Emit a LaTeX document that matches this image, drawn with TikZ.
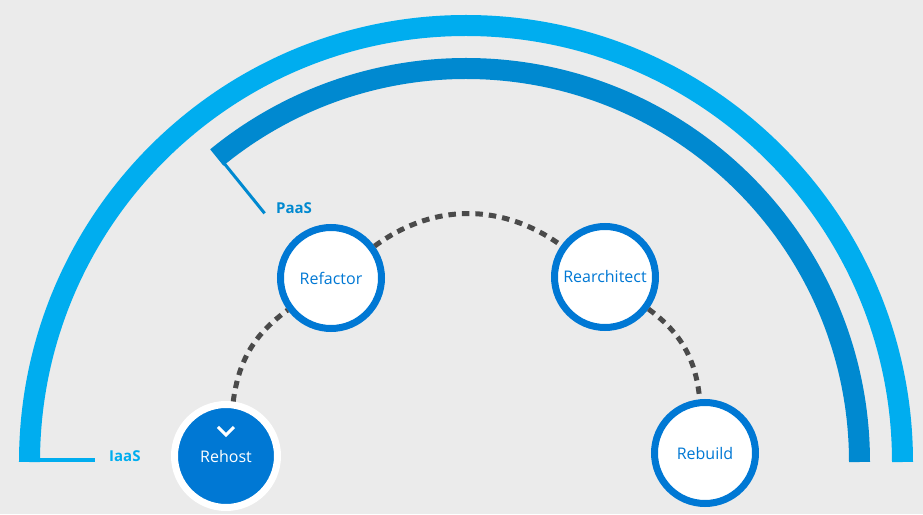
\documentclass[tikz,border=0pt]{standalone}
\usepackage{fontspec}
\setmainfont{Open Sans}
\definecolor{bgc}{HTML}{EBEBEB}
\definecolor{outerc}{HTML}{00ADEF}
\definecolor{innerc}{HTML}{0089D0}
\definecolor{nodec}{HTML}{0078D4}
\definecolor{dashc}{HTML}{4A4A4A}
\begin{document}
\begin{tikzpicture}[x=1pt,y=1pt,
  stage/.style={circle, draw=nodec, line width=7pt, fill=white, minimum size=101pt, inner sep=0pt, text=nodec, font=\fontsize{16}{18}\selectfont},
  curstage/.style={circle, draw=white, line width=7pt, fill=nodec, minimum size=103pt, inner sep=0pt, text=white, font=\fontsize{16}{18}\selectfont},
  dashline/.style={draw=dashc, line width=5pt, dash pattern=on 7.5pt off 6pt},
  tierlabel/.style={font=\fontsize{15}{17}\selectfont\bfseries, inner sep=0pt, anchor=west}
]
\useasboundingbox (-466,-52) rectangle (457,462);
\fill[bgc] (-466,-52) rectangle (457,462);
% outer arc (IaaS)
\draw[outerc, line width=21pt] (436.5,0) arc[start angle=0, end angle=180, radius=436.5];
\fill[outerc] (-447,0) rectangle (-371,4);
% inner arc (PaaS)
\draw[innerc, line width=21pt] (393.5,0) arc[start angle=0, end angle=129.3, radius=393.5];
\draw[innerc, line width=3pt] (129:386) -- (129:320);
% labels
\node[tierlabel, text=outerc] (iaas) at (-357,6) {IaaS};
\node[tierlabel, text=innerc] (paas) at (-190,254) {PaaS};
% stages
\node[curstage] (rehost) at (-240,6) {Rehost};
\node[stage] (refactor) at (-135,184) {Refactor};
\node[stage] (rearch) at (139,185) {Rearchitect};
\node[stage] (rebuild) at (239,9) {Rebuild};
\draw[white, line width=3pt, shift={(rehost.center)}] (-8,29) -- (0,21) -- (8,29);
% dashed connectors
\draw[dashline] (rehost) to[bend left=23] (refactor);
\draw[dashline] (refactor) to[bend left=36] (rearch);
\draw[dashline] (rearch) to[bend left=24] (rebuild);
\end{tikzpicture}
\end{document}
